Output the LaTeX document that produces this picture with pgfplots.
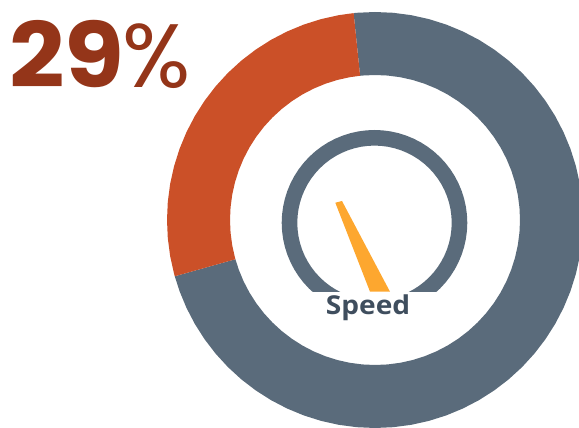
\documentclass[border=0pt]{standalone}
\usepackage{pgfplots}
\pgfplotsset{compat=1.18}
\usepackage{fontspec}
\newfontfamily\bigfont{Poppins}[FakeStretch=1.08]
\newfontfamily\pctfont{Poppins}
\newfontfamily\labfont{Open Sans}[FakeStretch=1.08]
\definecolor{slate}{HTML}{5A6B7B}
\definecolor{rust}{HTML}{CB5028}
\definecolor{darkrust}{HTML}{943519}
\definecolor{amber}{HTML}{FDA72F}
\definecolor{labelc}{HTML}{3F4E5E}
\begin{document}
\begin{tikzpicture}
\path[use as bounding box] (0,0) rectangle (579pt,428pt);
\begin{axis}[
  at={(0,0)}, anchor=south west,
  scale only axis, width=579pt, height=428pt,
  xmin=-375, xmax=204, ymin=-208, ymax=220,
  hide axis, clip=true]
% share: 29% slice (rust), rest (slate); angle, radius
\addplot[data cs=polar, fill=slate, draw=none] coordinates {
(195.7,208)(200,208)(205,208)(210,208)(215,208)(220,208)(225,208)(230,208)(235,208)(240,208)(245,208)(250,208)(255,208)(260,208)(265,208)(270,208)(275,208)(280,208)(285,208)(290,208)(295,208)(300,208)(305,208)(310,208)(315,208)(320,208)(325,208)(330,208)(335,208)(340,208)(345,208)(350,208)(355,208)(360,208)(365,208)(370,208)(375,208)(380,208)(385,208)(390,208)(395,208)(400,208)(405,208)(410,208)(415,208)(420,208)(425,208)(430,208)(435,208)(440,208)(445,208)(450,208)(455,208)(455.9,208)
(455.9,145)(455,145)(450,145)(445,145)(440,145)(435,145)(430,145)(425,145)(420,145)(415,145)(410,145)(405,145)(400,145)(395,145)(390,145)(385,145)(380,145)(375,145)(370,145)(365,145)(360,145)(355,145)(350,145)(345,145)(340,145)(335,145)(330,145)(325,145)(320,145)(315,145)(310,145)(305,145)(300,145)(295,145)(290,145)(285,145)(280,145)(275,145)(270,145)(265,145)(260,145)(255,145)(250,145)(245,145)(240,145)(235,145)(230,145)(225,145)(220,145)(215,145)(210,145)(205,145)(200,145)(195.7,145)
} --cycle;
\addplot[data cs=polar, fill=rust, draw=none] coordinates {
(95.9,208)(100,208)(105,208)(110,208)(115,208)(120,208)(125,208)(130,208)(135,208)(140,208)(145,208)(150,208)(155,208)(160,208)(165,208)(170,208)(175,208)(180,208)(185,208)(190,208)(195,208)(195.7,208)
(195.7,145)(195,145)(190,145)(185,145)(180,145)(175,145)(170,145)(165,145)(160,145)(155,145)(150,145)(145,145)(140,145)(135,145)(130,145)(125,145)(120,145)(115,145)(110,145)(105,145)(100,145)(95.9,145)
} --cycle;
% gauge ring
\addplot[data cs=polar, fill=slate, draw=none, shift={(axis direction cs:-0.5,-2.8)}] coordinates {
(0,92.8)(5,92.8)(10,92.8)(15,92.8)(20,92.8)(25,92.8)(30,92.8)(35,92.8)(40,92.8)(45,92.8)(50,92.8)(55,92.8)(60,92.8)(65,92.8)(70,92.8)(75,92.8)(80,92.8)(85,92.8)(90,92.8)(95,92.8)(100,92.8)(105,92.8)(110,92.8)(115,92.8)(120,92.8)(125,92.8)(130,92.8)(135,92.8)(140,92.8)(145,92.8)(150,92.8)(155,92.8)(160,92.8)(165,92.8)(170,92.8)(175,92.8)(180,92.8)(185,92.8)(190,92.8)(195,92.8)(200,92.8)(205,92.8)(210,92.8)(215,92.8)(220,92.8)(225,92.8)(230,92.8)(235,92.8)(240,92.8)(245,92.8)(250,92.8)(255,92.8)(260,92.8)(265,92.8)(270,92.8)(275,92.8)(280,92.8)(285,92.8)(290,92.8)(295,92.8)(300,92.8)(305,92.8)(310,92.8)(315,92.8)(320,92.8)(325,92.8)(330,92.8)(335,92.8)(340,92.8)(345,92.8)(350,92.8)(355,92.8)(360,92.8)
(360,77.2)(355,77.2)(350,77.2)(345,77.2)(340,77.2)(335,77.2)(330,77.2)(325,77.2)(320,77.2)(315,77.2)(310,77.2)(305,77.2)(300,77.2)(295,77.2)(290,77.2)(285,77.2)(280,77.2)(275,77.2)(270,77.2)(265,77.2)(260,77.2)(255,77.2)(250,77.2)(245,77.2)(240,77.2)(235,77.2)(230,77.2)(225,77.2)(220,77.2)(215,77.2)(210,77.2)(205,77.2)(200,77.2)(195,77.2)(190,77.2)(185,77.2)(180,77.2)(175,77.2)(170,77.2)(165,77.2)(160,77.2)(155,77.2)(150,77.2)(145,77.2)(140,77.2)(135,77.2)(130,77.2)(125,77.2)(120,77.2)(115,77.2)(110,77.2)(105,77.2)(100,77.2)(95,77.2)(90,77.2)(85,77.2)(80,77.2)(75,77.2)(70,77.2)(65,77.2)(60,77.2)(55,77.2)(50,77.2)(45,77.2)(40,77.2)(35,77.2)(30,77.2)(25,77.2)(20,77.2)(15,77.2)(10,77.2)(5,77.2)(0,77.2)
} --cycle;
% white band under the gauge
\addplot[fill=white, draw=none] coordinates {(-80,-71.7)(80,-71.7)(80,-110)(-80,-110)} --cycle;
% needle
\addplot[fill=amber, draw=none] coordinates {(-39.7,17.3)(-33,19)(15,-71.7)(-5,-71.7)} --cycle;
\node[anchor=base west, inner sep=0pt, text=darkrust] at (axis cs:-366,132) {\bigfont\bfseries\fontsize{90}{90}\selectfont 29\kern-2pt{\pctfont\mdseries\%}};
\node[anchor=base, inner sep=0pt, text=labelc] at (axis cs:-7,-95) {\labfont\bfseries\fontsize{26}{26}\selectfont Speed};
\end{axis}
\end{tikzpicture}
\end{document}
